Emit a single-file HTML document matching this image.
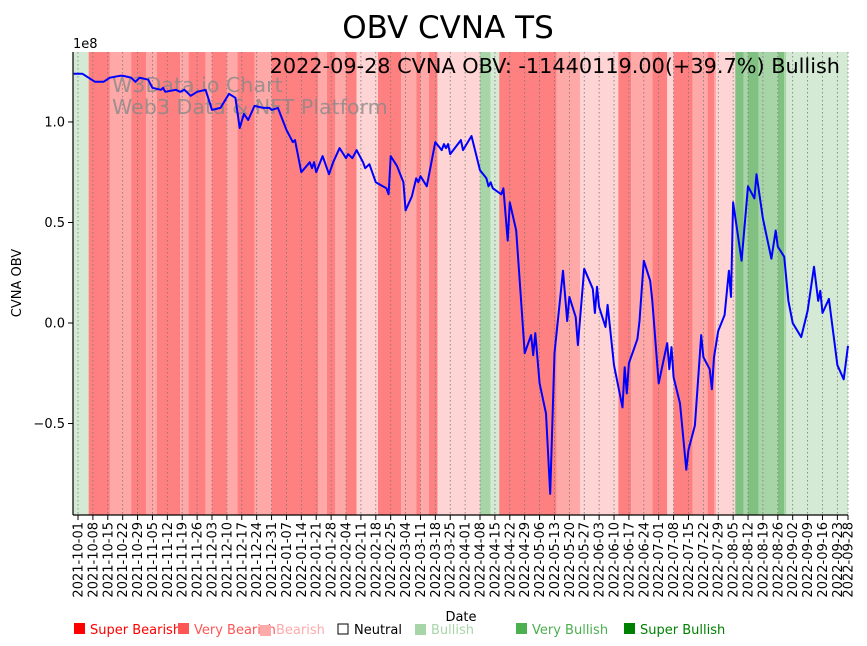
<!DOCTYPE html>
<html><head><meta charset="utf-8"><style>
html,body{margin:0;padding:0;background:#fff;}
svg{display:block;font-family:"DejaVu Sans","Liberation Sans",sans-serif;}
</style></head><body>
<svg id="chart" width="867" height="646" viewBox="0 0 867 646">
<text x="448" y="38" font-size="31" text-anchor="middle">OBV CVNA TS</text>
<text x="73" y="48" font-size="13">1e8</text>
<text transform="translate(21,283) rotate(-90)" font-size="13" text-anchor="middle">CVNA OBV</text>
<text x="461" y="621" font-size="13" text-anchor="middle">Date</text>
<g id="bands"></g>
<g id="grid"></g>
<text x="112" y="92" font-size="20.6" fill="#888" fill-opacity="0.8">W3Data.io Chart</text>
<text x="112" y="114" font-size="20.6" fill="#888" fill-opacity="0.8">Web3 Data &amp; NFT Platform</text>
<path id="obvline" fill="none" stroke="#0000ff" stroke-width="2" stroke-linejoin="round"></path>
<text x="840" y="73" font-size="20.8" text-anchor="end">2022-09-28 CVNA OBV: -11440119.00(+39.7%) Bullish</text>
<g id="axes"></g>
<g id="legend" font-size="13">
<rect x="74" y="623" width="11" height="11" fill="#ff0000"/><text x="90" y="634" fill="#ff0000">Super Bearish</text>
<rect x="178" y="623" width="11" height="11" fill="#ff5555"/><text x="194" y="634" fill="#ff5555">Very Bearish</text>
<rect x="260" y="625" width="11" height="11" fill="#ffaaaa"/><text x="276" y="634" fill="#ffaaaa">Bearish</text>
<rect x="338" y="624" width="10" height="10" fill="none" stroke="#000"/><text x="354" y="634" fill="#000">Neutral</text>
<rect x="415" y="624" width="11" height="11" fill="#a8d5a8"/><text x="431" y="634" fill="#a8d5a8">Bullish</text>
<rect x="516" y="623" width="11" height="11" fill="#4caf50"/><text x="532" y="634" fill="#4caf50">Very Bullish</text>
<rect x="624" y="623" width="11" height="11" fill="#008000"/><text x="640" y="634" fill="#008000">Super Bullish</text>
</g>
</svg>
<script>
// days since 2021-10-01
const obvDays = [-2,0,2,8,10,12,15,20,21,25,27,29,33,35,39,40,41,46,48,50,53,56,60,63,67,71,74,76,78,80,83,87,90,91,94,98,101,102,105,109,110,111,112,115,118,120,123,126,127,129,131,134,135,137,140,145,146,147,150,153,154,157,159,160,161,164,168,171,172,173,174,175,180,181,185,189,192,193,194,195,199,200,202,203,206,208,210,213,214,215,217,220,222,224,228,230,231,234,235,238,242,243,244,245,248,249,252,256,257,258,259,263,264,266,269,270,273,277,278,279,280,283,286,287,290,293,294,297,298,299,301,304,306,307,308,312,315,318,319,322,326,328,329,332,334,336,340,343,346,348,349,350,353,357,360,362];
// OBV in units of 1e8
const obvValues = [1.24,1.24,1.24,1.20,1.20,1.20,1.22,1.23,1.23,1.22,1.20,1.22,1.21,1.17,1.16,1.17,1.15,1.16,1.15,1.16,1.13,1.15,1.16,1.06,1.07,1.14,1.12,0.97,1.04,1.01,1.08,1.07,1.07,1.06,1.07,0.96,0.90,0.91,0.75,0.80,0.77,0.80,0.75,0.83,0.74,0.80,0.87,0.82,0.84,0.82,0.86,0.80,0.77,0.79,0.70,0.67,0.64,0.83,0.78,0.70,0.56,0.63,0.72,0.70,0.73,0.68,0.90,0.86,0.89,0.87,0.89,0.84,0.91,0.86,0.93,0.76,0.72,0.68,0.70,0.67,0.64,0.67,0.41,0.60,0.46,0.16,-0.15,-0.06,-0.16,-0.05,-0.30,-0.45,-0.85,-0.15,0.26,0.01,0.13,0.03,-0.11,0.27,0.17,0.05,0.18,0.08,-0.02,0.09,-0.21,-0.42,-0.22,-0.35,-0.20,-0.08,0.01,0.31,0.21,0.11,-0.30,-0.10,-0.23,-0.12,-0.27,-0.40,-0.73,-0.63,-0.51,-0.06,-0.17,-0.23,-0.33,-0.17,-0.04,0.04,0.26,0.13,0.60,0.31,0.68,0.62,0.74,0.52,0.32,0.46,0.38,0.33,0.11,0.00,-0.07,0.06,0.28,0.11,0.16,0.05,0.12,-0.21,-0.28,-0.114];
const bandStarts = [-3,5,15,25,32,37,48,52,60,63,70,75,83,91,113,117,121,126,131,141,152,159,161,165,169,189,194,198,225,236,254,260,270,277,280,289,296,299,300,309,313,315,320,329,332,333];
const bandEnds   = [5,15,25,32,37,48,52,60,63,70,75,83,91,113,117,121,126,131,141,152,159,161,165,169,189,194,198,225,236,254,260,270,277,280,289,296,299,300,309,313,315,320,329,332,333,363];
const bandSignals = ['lg','vbr','br','vbr','br','vbr','br','vbr','br','vbr','br','vbr','br','vbr','br','vbr','br','vbr','pk','vbr','br','vbr','br','vbr','pk','bu','lg','vbr','br','pk','vbr','br','vbr','pk','vbr','br','vbr','br','pk','vbu','bu','vbu','bu','vbu','bu','lg'];
const yTickValues = [1.0,0.5,0.0,-0.5];
const yTickLabels = ['1.0','0.5','0.0','\u22120.5'];
const xTickCount = 52; // weekly ticks from 2021-10-01
const xLastTickDay = 362;

const NS='http://www.w3.org/2000/svg';
const L=73,R=848,T=52,B=515;
const dMin=-2.35,dMax=362;
const vMin=-0.955,vMax=1.348;
const xs=d=>L+(d-dMin)/(dMax-dMin)*(R-L);
const ys=v=>B-(v-vMin)/(vMax-vMin)*(B-T);
const colors={vbr:'#ff8080',br:'#ffa8a8',pk:'#ffd4d4',bu:'#a8d5a8',vbu:'#80c080',lg:'#d4ead4'};
function mk(tag,attrs,parent){const e=document.createElementNS(NS,tag);for(const k in attrs)e.setAttribute(k,attrs[k]);parent.appendChild(e);return e;}

const bands=document.getElementById('bands');
for(let i=0;i<bandStarts.length;i++){
  const x0=Math.max(L,xs(bandStarts[i])),x1=Math.min(R,xs(bandEnds[i]));
  const r=mk('rect',{x:x0,y:T,width:Math.max(0,x1-x0),height:B-T,fill:colors[bandSignals[i]]},bands);
  
  
}

function fmt(d){const dt=new Date(Date.UTC(2021,9,1)+d*86400000);return dt.toISOString().slice(0,10);}
const tickDays=[];for(let i=0;i<xTickCount;i++)tickDays.push(i*7);tickDays.push(xLastTickDay);
const grid=document.getElementById('grid'),axes=document.getElementById('axes');
tickDays.forEach(d=>{
  const x=xs(d);
  const g=mk('line',{x1:x,x2:x,y1:T,y2:B,stroke:'#777','stroke-width':0.8,'stroke-dasharray':'1.5,2.5'},grid);
  
  
  const t=mk('line',{x1:x,x2:x,y1:B,y2:B+5,stroke:'#000','stroke-width':1},axes);
  
  
  const lb=mk('text',{transform:`translate(${x+4.5},${B+7}) rotate(-90)`,'font-size':13,'text-anchor':'end'},axes);
  lb.textContent=fmt(d);
  
  
});
yTickValues.forEach((v,i)=>{
  const y=ys(v);
  const t=mk('line',{x1:L-5,x2:L,y1:y,y2:y,stroke:'#000','stroke-width':1},axes);
  
  
  const lb=mk('text',{x:L-8,y:y+4.5,'font-size':13,'text-anchor':'end'},axes);
  lb.textContent=yTickLabels[i];
  
  
});
const sp1=mk('line',{x1:L,x2:L,y1:T,y2:B,stroke:'#000','stroke-width':1.2},axes);


const sp2=mk('line',{x1:L,x2:R,y1:B,y2:B,stroke:'#000','stroke-width':1.2},axes);



document.getElementById('obvline').setAttribute('d',obvDays.map((d,i)=>(i?'L':'M')+xs(Math.max(dMin,d)).toFixed(1)+','+ys(obvValues[i]).toFixed(1)).join(''));
</script>
</body></html>
